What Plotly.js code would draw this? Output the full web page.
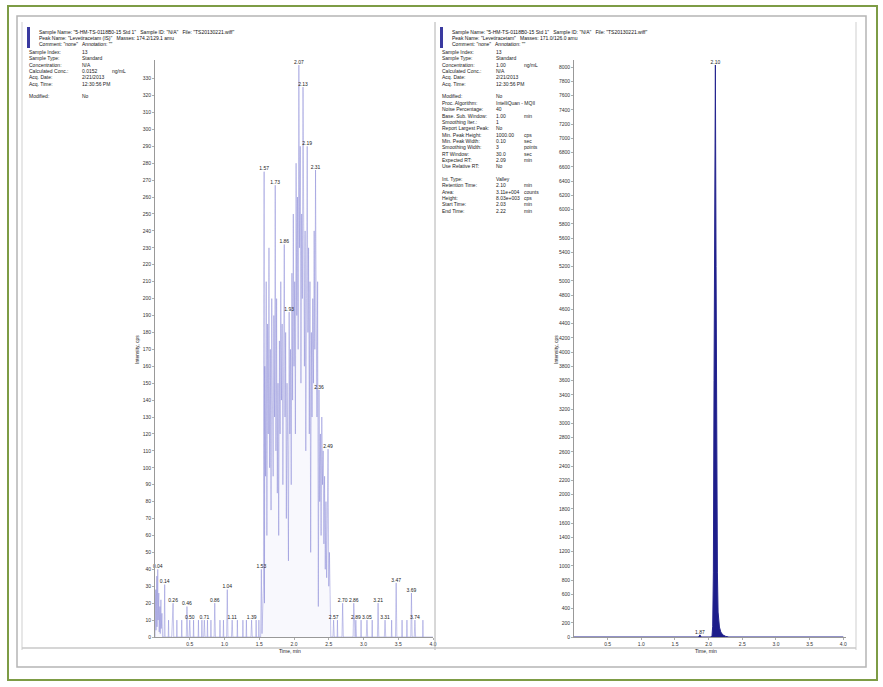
<!DOCTYPE html>
<html><head><meta charset="utf-8">
<script src="https://cdn.plot.ly/plotly-3.0.1.min.js"></script>
<style>html,body{margin:0;padding:0;background:#fff;}#chart{width:883px;height:687px;}</style>
</head><body><div id="chart"></div>
<script>
// ---------- DATA ----------
// Left chromatogram (noisy low-level trace)
const leftTime = [
  0.00, 0.01, 0.015, 0.025, 0.03, 0.04, 0.045, 0.055, 0.06, 0.07, 0.075, 0.085, 0.09, 0.10, 0.11, 0.13, 0.14,
  0.145, 0.16, 0.19, 0.195, 0.20, 0.24, 0.26, 0.27, 0.31, 0.315, 0.32, 0.38, 0.385, 0.39, 0.45, 0.46, 0.47, 0.49, 0.50, 0.51, 0.55, 0.555, 0.56,
  0.62, 0.625, 0.63, 0.67, 0.675, 0.68, 0.70, 0.71, 0.72, 0.75, 0.755, 0.76, 0.80, 0.805, 0.81, 0.85, 0.86, 0.87, 0.93, 0.935, 0.94, 0.98, 0.985, 0.99,
  1.03, 1.04, 1.05, 1.10, 1.11, 1.12, 1.18, 1.185, 1.19, 1.26, 1.265, 1.27, 1.31, 1.315, 1.32, 1.38, 1.39, 1.40, 1.45, 1.455, 1.46, 1.49, 1.495, 1.50, 1.52,
  1.53, 1.54, 1.55, 1.56, 1.57, 1.575, 1.58, 1.59,
  1.60, 1.61, 1.62, 1.63, 1.64, 1.65, 1.66, 1.67, 1.68, 1.69,
  1.70, 1.71, 1.72, 1.73, 1.74, 1.75, 1.76, 1.77, 1.78, 1.79,
  1.80, 1.81, 1.82, 1.83, 1.84, 1.85, 1.86, 1.87, 1.88, 1.89,
  1.90, 1.91, 1.92, 1.93, 1.94, 1.95, 1.96, 1.97, 1.98, 1.99,
  2.00, 2.01, 2.02, 2.03, 2.04, 2.05, 2.06, 2.07, 2.08, 2.09,
  2.10, 2.11, 2.12, 2.13, 2.14, 2.15, 2.16, 2.17, 2.18, 2.19,
  2.20, 2.21, 2.22, 2.23, 2.24, 2.25, 2.26, 2.27, 2.28, 2.29,
  2.30, 2.31, 2.32, 2.33, 2.34, 2.35, 2.36, 2.37, 2.38, 2.39,
  2.40, 2.41, 2.42, 2.43, 2.44, 2.45, 2.46, 2.47, 2.48, 2.49,
  2.50, 2.51, 2.52, 2.53,
  2.56, 2.57, 2.58, 2.62, 2.625, 2.63, 2.69, 2.70, 2.71, 2.85, 2.86, 2.87, 2.88, 2.89, 2.90, 2.96, 2.965, 2.97,
  3.04, 3.05, 3.06, 3.12, 3.125, 3.13, 3.20, 3.21, 3.22, 3.30, 3.31, 3.32, 3.40, 3.405, 3.41, 3.46, 3.47, 3.48,
  3.55, 3.555, 3.56, 3.62, 3.625, 3.63, 3.68, 3.69, 3.70, 3.73, 3.74, 3.75, 3.85, 3.855, 3.86, 4.00
];
const leftSignal = [
  0, 28, 4, 36, 6, 40, 10, 26, 3, 18, 2, 22, 5, 14, 0, 0, 31,
  0, 0, 0, 10, 0, 0, 20, 0, 0, 10, 0, 0, 10, 0, 0, 18, 0, 0, 10, 0, 0, 10, 0,
  0, 10, 0, 0, 10, 0, 0, 10, 0, 0, 10, 0, 0, 10, 0, 0, 20, 0, 0, 10, 0, 0, 10, 0,
  0, 28, 0, 0, 10, 0, 0, 10, 0, 0, 10, 0, 0, 10, 0, 0, 10, 0, 0, 10, 0, 0, 10, 0, 0,
  40, 2, 12, 30, 275, 20, 160, 95,
  210, 60, 185, 120, 230, 100, 170, 75, 200, 140,
  95, 190, 130, 267, 110, 200, 85, 150, 60, 175,
  120, 210, 140, 185, 90, 160, 232, 130, 180, 70,
  150, 110, 45, 192, 120, 170, 90, 215, 140, 250,
  160, 210, 120, 280, 190, 260, 170, 338, 230, 290,
  150, 250, 200, 325, 220, 160, 240, 110, 200, 290,
  180, 230, 120, 210, 50, 180, 130, 200, 150, 240,
  170, 276, 190, 130, 210, 18, 146, 80, 120, 60,
  130, 90, 110, 55, 95, 40, 80, 35, 70, 111,
  30, 50, 25, 0,
  0, 10, 0,  0, 10, 0,  0, 20, 0,  0, 20, 0,  0, 10, 0,  0, 10, 0,
  0, 10, 0,  0, 10, 0,  0, 20, 0,  0, 10, 0,  0, 10, 0,  0, 32, 0,
  0, 10, 0,  0, 10, 0,  0, 26, 0,  0, 10, 0,  0, 10, 0,  0
];
const leftPeakTimes   = [0.04, 0.14, 0.26, 0.46, 0.50, 0.71, 0.86, 1.04, 1.11, 1.39, 1.53, 1.57, 1.73, 1.86, 1.93, 2.07, 2.13, 2.19, 2.31, 2.36, 2.49, 2.57, 2.70, 2.86, 2.89, 3.05, 3.21, 3.31, 3.47, 3.69, 3.74];
const leftPeakHeights = [40, 31, 20, 18, 10, 10, 20, 28, 10, 10, 40, 275, 267, 232, 192, 338, 325, 290, 276, 146, 111, 10, 20, 20, 10, 10, 20, 10, 32, 26, 10];

// Right chromatogram (single sharp peak)
const rightTime   = [0.00, 1.85, 1.87, 1.89, 2.03, 2.05, 2.06, 2.07, 2.08, 2.09, 2.10, 2.11, 2.12, 2.13, 2.14, 2.16, 2.18, 2.21, 2.25, 2.30, 4.00];
const rightSignal = [0, 0, 30, 0, 0, 20, 150, 900, 3600, 7000, 8030, 5200, 2500, 900, 350, 140, 70, 30, 10, 0, 0];
const rightPeakTimes   = [1.87, 2.10];
const rightPeakHeights = [30, 8030];

// Axis ticks
const xTickVals = [0.5, 1.0, 1.5, 2.0, 2.5, 3.0, 3.5, 4.0];
const xTickText = ['0.5', '1.0', '1.5', '2.0', '2.5', '3.0', '3.5', '4.0'];
const leftYMax = 341, leftYStep = 10;
const rightYMax = 8100, rightYStep = 200;

// Header text
const leftHeader = [
  'Sample Name: "5-HM-TS-0118B0-15 Std 1"   Sample ID: "N/A"   File: "TS20130221.wiff"',
  'Peak Name: "Levetiracetam (IS)"   Masses: 174.2/129.1 amu',
  'Comment: "none"   Annotation: ""'
];
const rightHeader = [
  'Sample Name: "5-HM-TS-0118B0-15 Std 1"   Sample ID: "N/A"   File: "TS20130221.wiff"',
  'Peak Name: "Levetiracetam"   Masses: 171.0/126.0 amu',
  'Comment: "none"   Annotation: ""'
];
const leftInfoLabels = ['Sample Index:', 'Sample Type:', 'Concentration:', 'Calculated Conc.:', 'Acq. Date:', 'Acq. Time:', '', 'Modified:'];
const leftInfoValues = ['13', 'Standard', 'N/A', '0.0152', '2/21/2013', '12:30:56 PM', '', 'No'];
const leftInfoUnits  = ['', '', '', 'ng/mL', '', '', '', ''];
const rightInfoLabels = ['Sample Index:', 'Sample Type:', 'Concentration:', 'Calculated Conc.:', 'Acq. Date:', 'Acq. Time:', '',
  'Modified:', 'Proc. Algorithm:', 'Noise Percentage:', 'Base. Sub. Window:', 'Smoothing Iter.:', 'Report Largest Peak:',
  'Min. Peak Height:', 'Min. Peak Width:', 'Smoothing Width:', 'RT Window:', 'Expected RT:', 'Use Relative RT:', '',
  'Int. Type:', 'Retention Time:', 'Area:', 'Height:', 'Start Time:', 'End Time:'];
const rightInfoValues = ['13', 'Standard', '1.00', 'N/A', '2/21/2013', '12:30:56 PM', '',
  'No', 'IntelliQuan - MQII', '40', '1.00', '1', 'No',
  '1000.00', '0.10', '3', '30.0', '2.09', 'No', '',
  'Valley', '2.10', '3.11e+004', '8.03e+003', '2.03', '2.22'];
const rightInfoUnits = ['', '', 'ng/mL', '', '', '', '',
  '', '', '', 'min', '', '',
  'cps', 'sec', 'points', 'sec', 'min', '', '',
  '', 'min', 'counts', 'cps', 'min', 'min'];

// ---------- LAYOUT HELPERS ----------
const W = 883, H = 687;
const px = x => x / W;
const py = y => 1 - y / H;
const FONT = 'Liberation Sans, Arial, sans-serif';

function range(step, max) { const a = []; for (let v = 0; v <= max + 1e-9; v += step) a.push(Math.round(v)); return a; }

const traces = [
  { x: leftTime, y: leftSignal, type: 'scatter', mode: 'lines', xaxis: 'x', yaxis: 'y',
    line: { color: 'rgba(120,120,210,0.6)', width: 0.7 }, fill: 'tozeroy', fillcolor: 'rgba(170,170,230,0.08)', hoverinfo: 'skip' },
  { x: leftPeakTimes, y: leftPeakHeights, type: 'scatter', mode: 'text', xaxis: 'x', yaxis: 'y',
    text: leftPeakTimes.map(t => t.toFixed(2)), textposition: 'top center', cliponaxis: false,
    textfont: { size: 5, color: '#222', family: FONT }, hoverinfo: 'skip' },
  { x: rightTime, y: rightSignal, type: 'scatter', mode: 'lines', xaxis: 'x2', yaxis: 'y2',
    line: { color: '#25258f', width: 1 }, fill: 'tozeroy', fillcolor: '#1d1d8a', hoverinfo: 'skip' },
  { x: rightPeakTimes, y: rightPeakHeights, type: 'scatter', mode: 'text', xaxis: 'x2', yaxis: 'y2',
    text: rightPeakTimes.map(t => t.toFixed(2)), textposition: 'top center', cliponaxis: false,
    textfont: { size: 5, color: '#222', family: FONT }, hoverinfo: 'skip' }
];

const axisCommon = {
  showline: true, linecolor: '#999', linewidth: 1, ticks: 'outside', ticklen: 2, tickwidth: 0.6, tickcolor: '#777',
  showgrid: false, zeroline: false, fixedrange: true, tickfont: { size: 5, color: '#333', family: FONT }
};
const yDomain = [py(637), py(60)];

const annotations = [];
function addText(x, y, text, opts = {}) {
  annotations.push(Object.assign({ xref: 'paper', yref: 'paper', x: px(x), y: py(y), text: text, showarrow: false,
    xanchor: 'left', yanchor: 'middle', font: { size: 5, color: '#222', family: FONT } }, opts));
}
leftHeader.forEach((t, i) => addText(37, 32 + i * 6.2, t, { font: { size: 5, color: '#111', family: FONT } }));
rightHeader.forEach((t, i) => addText(450, 32 + i * 6.2, t, { font: { size: 5, color: '#111', family: FONT } }));
leftInfoLabels.forEach((t, i) => {
  if (!t) return;
  addText(27, 52 + i * 6.35, t); addText(80, 52 + i * 6.35, leftInfoValues[i]);
  if (leftInfoUnits[i]) addText(110, 52 + i * 6.35, leftInfoUnits[i]);
});
rightInfoLabels.forEach((t, i) => {
  if (!t) return;
  addText(440, 52 + i * 6.35, t); addText(494, 52 + i * 6.35, rightInfoValues[i]);
  if (rightInfoUnits[i]) addText(522, 52 + i * 6.35, rightInfoUnits[i]);
});
// axis titles
addText(137, 350, 'Intensity, cps', { textangle: -90, xanchor: 'center', yanchor: 'middle' });
addText(556, 350, 'Intensity, cps', { textangle: -90, xanchor: 'center', yanchor: 'middle' });
addText(290, 651, 'Time, min', { xanchor: 'center' });
addText(706, 651, 'Time, min', { xanchor: 'center' });

function rect(x0, y0, x1, y1, color, w, fill) {
  return { type: 'rect', xref: 'paper', yref: 'paper', x0: px(x0), x1: px(x1), y0: py(y1), y1: py(y0),
    line: { color: color, width: w }, fillcolor: fill || 'rgba(0,0,0,0)', layer: 'below' };
}
function line(x0, y0, x1, y1, color, w) {
  return { type: 'line', xref: 'paper', yref: 'paper', x0: px(x0), x1: px(x1), y0: py(y0), y1: py(y1), line: { color: color, width: w } };
}
const shapes = [
  rect(8, 6, 877, 680, '#7d9c45', 2),
  rect(17, 16, 866, 667, '#b5b5b5', 1.5),
  line(22, 22, 22, 650, '#cfcfcf', 1),
  line(435, 22, 435, 650, '#b0b0b0', 1),
  line(856, 22, 856, 650, '#cfcfcf', 1),
  line(22, 648, 856, 648, '#c8c8c8', 1.5),
  rect(27, 27, 30, 48, '#3a3aa0', 0, '#3a3aa0'),
  rect(440, 27, 443, 48, '#3a3aa0', 0, '#3a3aa0')
];

const layout = {
  width: W, height: H, margin: { l: 0, r: 0, t: 0, b: 0 },
  paper_bgcolor: '#fff', plot_bgcolor: '#fff', showlegend: false,
  font: { family: FONT, size: 5, color: '#333' },
  xaxis: Object.assign({}, axisCommon, { domain: [px(155), px(433)], range: [0, 4.0], anchor: 'y', tickvals: xTickVals, ticktext: xTickText }),
  yaxis: Object.assign({}, axisCommon, { domain: yDomain, range: [0, leftYMax], anchor: 'x', tickvals: range(leftYStep, 330) }),
  xaxis2: Object.assign({}, axisCommon, { domain: [px(574), px(846)], range: [0, 4.04], anchor: 'y2', tickvals: xTickVals, ticktext: xTickText }),
  yaxis2: Object.assign({}, axisCommon, { domain: yDomain, range: [0, rightYMax], anchor: 'x2', tickvals: range(rightYStep, 8000) }),
  annotations: annotations,
  shapes: shapes
};

Plotly.newPlot('chart', traces, layout, { displayModeBar: false, staticPlot: true });
</script></body></html>
